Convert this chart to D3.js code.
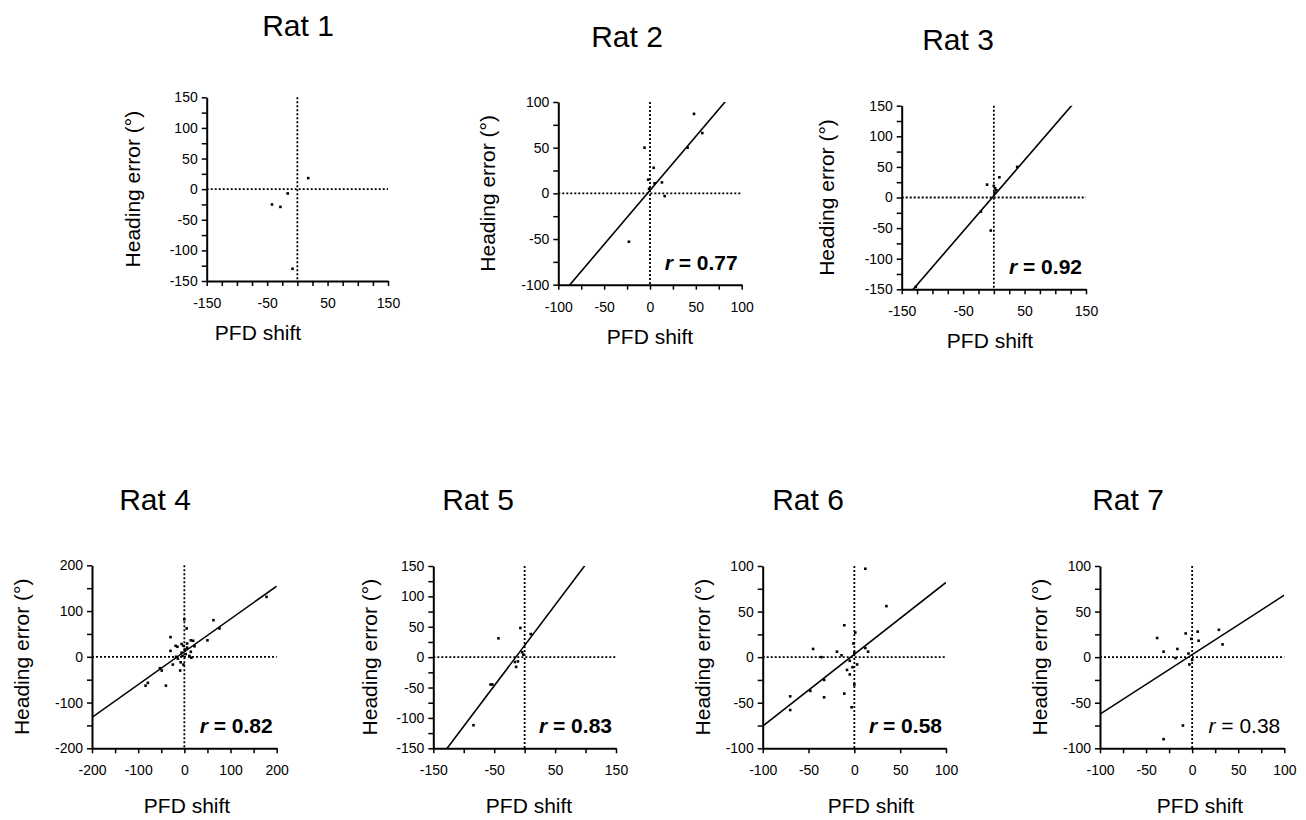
<!DOCTYPE html>
<html lang="en">
<head>
    <meta charset="UTF-8">
    <title>PFD shift vs heading error</title>
    <script src="https://d3js.org/d3.v7.min.js"></script>
    <style>
        body { margin: 0; background: #fff; }
        svg { font-family: Arial, "Liberation Sans", sans-serif; }
        .axis path, .axis line { stroke: #000; }
        .axis path { stroke-width: 2px; }
        .axis line { stroke-width: 1.5px; }
        .axis text { font-size: 14px; fill: #000; }
        .zero { stroke: #000; stroke-width: 1.8px; stroke-dasharray: 2,2; }
        .fit { stroke: #000; stroke-width: 1.6px; fill: none; }
        .dot { fill: #000; }
    </style>
</head>
<body>
<script>
    // Values: [PFD shift, heading error]
    const ratNames = ["Rat 1", "Rat 2", "Rat 3", "Rat 4", "Rat 5", "Rat 6", "Rat 7"];

    const rat1 = [[-42, -25], [-28, -29], [-16, -7], [18, 18], [-8, -130]];
    const rat2 = [[-6, 50], [48, 87], [57, 66], [41, 50], [4, 28], [-2, 15], [13, 12],
                  [5, 11], [-1, 5], [16, -3], [-23, -53]];
    const rat3 = [[-127, -146], [38, 50], [9, 33], [-11, 21], [0, 19], [2, 15], [4, 12],
                  [-5, -54], [-21, -23], [1, 8]];
    const rat4 = [[178, 131], [63, 80], [76, 62], [50, 36], [0, 82], [5, 62], [-30, 43],
                  [-19, 24], [-15, 22], [-6, 28], [-2, 24], [14, 36], [19, 35], [22, 23],
                  [6, 20], [-6, 9], [-30, 13], [14, 11], [-4, 2], [-14, -4], [15, -2],
                  [-25, -17], [-8, -12], [-2, -17], [-9, -30], [-40, -63], [-53, -25],
                  [-49, -30], [-79, -57], [-84, -63], [6, 29], [1, 16], [3, 6], [11, 2], [-18, 0]];
    const rat5 = [[-84, -112], [-56, -45], [-43, 31], [-7, 48], [10, 38], [-16, -8],
                  [-14, -16], [-4, 8], [-2, 4], [-11, -7], [-53, -45]];
    const rat6 = [[12, 97], [35, 56], [-11, 35], [-45, 9], [-19, 6], [-36, 0], [-14, 2],
                  [1, 27], [-1, 15], [0, 5], [12, 10], [15, 6], [-5, -4], [3, -8], [-2, -11],
                  [-8, -14], [-5, -19], [0, -30], [-11, -40], [-3, -55], [-33, -44], [-33, -25],
                  [-48, -37], [-70, -43], [-70, -58]];
    const rat7 = [[-38, 21], [-31, 6], [-16, 9], [-18, -1], [-7, 26], [-1, 20], [6, 28],
                  [7, 18], [29, 30], [33, 14], [-4, 4], [0, -3], [-3, -8], [-10, -75], [-31, -90]];

    // axis extents, tick spacing and labelled ticks
    const xDomains = [[-150, 150], [-100, 100], [-150, 150], [-200, 200], [-150, 150], [-100, 100], [-100, 100]];
    const yDomains = [[-150, 150], [-100, 100], [-150, 150], [-200, 200], [-150, 150], [-100, 100], [-100, 100]];
    const xTickSteps = [25, 25, 25, 50, 50, 50, 25];
    const yTickSteps = [25, 25, 25, 50, 25, 25, 25];
    const xLabelTicks = [[-150, -50, 50, 150], [-100, -50, 0, 50, 100], [-150, -50, 50, 150],
                         [-200, -100, 0, 100, 200], [-150, -50, 50, 150], [-100, -50, 0, 50, 100],
                         [-100, -50, 0, 50, 100]];
    const yLabelTicks = [[-150, -100, -50, 0, 50, 100, 150], [-100, -50, 0, 50, 100],
                         [-150, -100, -50, 0, 50, 100, 150], [-200, -100, 0, 100, 200],
                         [-150, -100, -50, 0, 50, 100, 150], [-100, -50, 0, 50, 100], [-100, -50, 0, 50, 100]];

    // regression lines (slope, intercept) and correlation
    const fitSlopes = [null, 1.183, 1.164, 0.717, 1.33, 0.788, 0.6525];
    const fitIntercepts = [null, 3.3, 2.85, 11, 19.3, 3.1, 2.75];
    const rValues = [null, "0.77", "0.92", "0.82", "0.83", "0.58", "0.38"];
    const rBold = [false, true, true, true, true, true, false];

    const allPoints = [rat1, rat2, rat3, rat4, rat5, rat6, rat7];

    // pixel boxes for each panel
    const layout = [
        { x0: 206.7, x1: 388,    y0: 97.3,  y1: 281,   tx: 298,  ty: 36,  ylx: 133,  xlx: 258, xly: 340 },
        { x0: 558.3, x1: 741.7,  y0: 102,   y1: 284.7, tx: 627,  ty: 47,  ylx: 488,  xlx: 650, xly: 344 },
        { x0: 901.7, x1: 1086,   y0: 105.7, y1: 289.3, tx: 958,  ty: 50,  ylx: 827,  xlx: 990, xly: 348 },
        { x0: 92,    x1: 276.7,  y0: 565.3, y1: 748.3, tx: 155,  ty: 510, ylx: 22,   xlx: 187, xly: 813 },
        { x0: 433.3, x1: 616,    y0: 566,   y1: 748.3, tx: 478,  ty: 510, ylx: 370,  xlx: 529, xly: 813 },
        { x0: 762.7, x1: 946,    y0: 566,   y1: 748.3, tx: 808,  ty: 510, ylx: 703,  xlx: 871, xly: 813 },
        { x0: 1100,  x1: 1284.3, y0: 566,   y1: 748.3, tx: 1128, ty: 510, ylx: 1040, xlx: 1200, xly: 813 }
    ];

    const svg = d3.select("body").append("svg")
        .attr("width", 1306)
        .attr("height", 820);

    ratNames.forEach(function(name, i) {
        const L = layout[i];
        const x = d3.scaleLinear().domain(xDomains[i]).range([L.x0, L.x1]);
        const y = d3.scaleLinear().domain(yDomains[i]).range([L.y1, L.y0]);

        const g = svg.append("g");

        // clip for the fit line
        svg.append("clipPath").attr("id", "clip" + i)
            .append("rect")
            .attr("x", L.x0).attr("y", L.y0)
            .attr("width", L.x1 - L.x0).attr("height", L.y1 - L.y0);

        // title
        g.append("text")
            .attr("x", L.tx).attr("y", L.ty)
            .attr("text-anchor", "middle")
            .style("font-size", "30px")
            .text(name);

        // dotted zero lines
        g.append("line").attr("class", "zero")
            .attr("x1", x(0)).attr("x2", x(0))
            .attr("y1", L.y0).attr("y2", L.y1);
        g.append("line").attr("class", "zero")
            .attr("x1", L.x0).attr("x2", L.x1)
            .attr("y1", y(0)).attr("y2", y(0));

        // fit line
        if (fitSlopes[i] !== null) {
            const xd = xDomains[i];
            g.append("line").attr("class", "fit")
                .attr("clip-path", "url(#clip" + i + ")")
                .attr("x1", x(xd[0])).attr("y1", y(fitSlopes[i] * xd[0] + fitIntercepts[i]))
                .attr("x2", x(xd[1])).attr("y2", y(fitSlopes[i] * xd[1] + fitIntercepts[i]));
        }

        // points
        g.selectAll(".dot")
            .data(allPoints[i])
            .enter().append("rect")
            .attr("class", "dot")
            .attr("x", d => x(d[0]) - 1.3)
            .attr("y", d => y(d[1]) - 1.3)
            .attr("width", 2.6)
            .attr("height", 2.6);

        // axes
        const xt = d3.range(xDomains[i][0], xDomains[i][1] + 1, xTickSteps[i]);
        const yt = d3.range(yDomains[i][0], yDomains[i][1] + 1, yTickSteps[i]);

        g.append("g").attr("class", "axis")
            .attr("transform", "translate(0," + L.y1 + ")")
            .call(d3.axisBottom(x).tickValues(xt).tickSize(5).tickSizeOuter(0).tickPadding(12)
                .tickFormat(d => xLabelTicks[i].includes(d) ? d : ""));

        g.append("g").attr("class", "axis")
            .attr("transform", "translate(" + L.x0 + ",0)")
            .call(d3.axisLeft(y).tickValues(yt).tickSize(5).tickSizeOuter(0).tickPadding(4)
                .tickFormat(d => yLabelTicks[i].includes(d) ? d : ""));

        // axis titles
        g.append("text")
            .attr("transform", "translate(" + L.ylx + "," + ((L.y0 + L.y1) / 2) + ") rotate(-90)")
            .attr("text-anchor", "middle")
            .attr("dy", "0.35em")
            .style("font-size", "21px")
            .text("Heading error (°)");

        g.append("text")
            .attr("x", L.xlx).attr("y", L.xly)
            .attr("text-anchor", "middle")
            .style("font-size", "21px")
            .text("PFD shift");

        // correlation
        if (rValues[i] !== null) {
            const t = g.append("text")
                .attr("x", L.x1 - 4).attr("y", L.y1 - 15)
                .attr("text-anchor", "end")
                .style("font-size", "21px")
                .style("font-weight", rBold[i] ? "bold" : "normal");
            t.append("tspan").style("font-style", "italic").text("r");
            t.append("tspan").text(" = " + rValues[i]);
        }
    });
</script>
</body>
</html>
